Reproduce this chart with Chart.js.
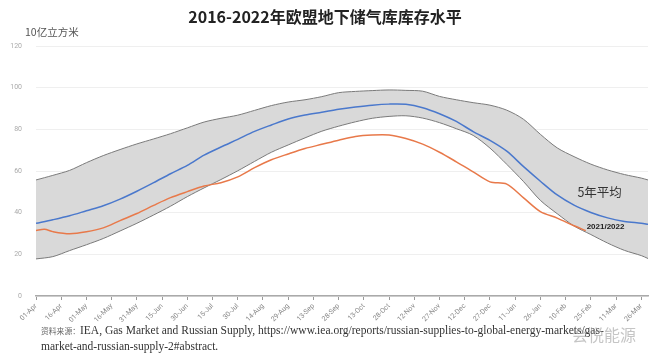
<!DOCTYPE html>
<html>
<head>
<meta charset="utf-8">
<script src="https://cdn.jsdelivr.net/npm/chart.js@4/dist/chart.umd.min.js"></script>
<style>
  html, body { margin: 0; padding: 0; background: #fff; }
  body { width: 660px; height: 357px; position: relative; overflow: hidden; }
  #wrap { position: absolute; left: 0; top: 0; width: 660px; height: 357px; }
  .t { position: absolute; white-space: nowrap; }
  #title { left: 0; width: 650px; top: 4px; text-align: center; font: bold 16px "Noto Sans CJK SC", sans-serif; color: #222; }
  #unit { left: 25px; top: 24px; font: 10.5px "Noto Sans CJK SC", serif; color: #555; }
  #src1 { left: 41px; top: 324px; font: 11.5px "Liberation Serif", serif; color: #333; }
  #src1 .cn { font: 7.8px "Noto Sans CJK SC", sans-serif; color: #666; }
  #src2 { left: 41px; top: 340px; font: 11.5px "Liberation Serif", serif; color: #333; }
  #wm { left: 572px; top: 322px; font: 16px "Noto Sans CJK SC", sans-serif; color: rgba(150,150,150,0.55); }
</style>
</head>
<body>
<div id="wrap"><canvas id="c" width="660" height="357"></canvas></div>
<div class="t" id="title">2016-2022年欧盟地下储气库库存水平</div>
<div class="t" id="unit">10亿立方米</div>
<div class="t" id="src1"><span class="cn">资料来源：</span>IEA, Gas Market and Russian Supply, https://www.iea.org/reports/russian-supplies-to-global-energy-markets/gas-</div>
<div class="t" id="src2">market-and-russian-supply-2#abstract.</div>
<div class="t" id="wm">会悦能源</div>
<script>
// Day offsets from 01-Apr
const days = [0,10,20,30,40,50,60,70,80,90,100,110,120,130,140,150,160,170,180,190,200,210,220,230,240,250,260,270,280,290,300,310,320,330,340,350,360,364];
// Range (2016-2021) maximum and minimum, 10^9 m3
const rangeMax = [55.7,57.9,60.3,64.0,67.4,70.3,73.0,75.4,77.9,80.7,83.5,85.3,86.8,89.1,91.4,93.1,94.2,95.7,97.6,98.2,98.6,98.9,98.7,98.3,95.8,94.2,92.8,91.6,89.2,84.8,77.6,71.1,66.9,63.3,60.5,58.3,56.6,55.7];
const rangeMin = [17.8,18.9,21.8,24.6,27.6,31.2,34.9,38.9,43.1,47.7,51.9,55.9,60.1,64.6,69.0,72.5,75.9,79.1,81.5,83.6,85.3,86.2,86.5,85.4,83.2,80.3,77.1,71.0,63.2,54.9,45.9,39.5,33.6,29.5,25.4,21.9,19.4,18.0];
// 5-year average
const avg5 = [34.9,36.6,38.5,40.9,43.3,46.5,50.3,54.4,58.7,62.7,67.6,71.5,75.2,79.0,82.1,85.0,86.9,88.2,89.6,90.7,91.6,92.1,92.0,90.4,87.5,83.8,78.9,74.7,69.5,62.1,55.1,48.5,43.6,40.1,37.5,35.8,34.9,34.4];
// 2021/2022 season
const daysCur = [0,5,10,20,30,40,50,60,70,80,90,100,110,120,130,140,150,160,170,180,190,200,210,220,230,240,250,260,270,280,290,300,310,320,327];
const season2122 = [31.4,32.0,30.9,29.9,30.8,32.7,36.2,39.6,43.5,47.2,50.1,52.8,54.4,57.2,61.6,65.4,68.2,70.8,72.8,74.8,76.6,77.3,77.3,75.6,72.9,69.0,64.4,59.6,54.8,53.7,47.1,40.5,37.4,33.7,31.4];
// X tick labels, every 15 days
const tickLabels = ["01-Apr","16-Apr","01-May","16-May","31-May","15-Jun","30-Jun","15-Jul","30-Jul","14-Aug","29-Aug","13-Sep","28-Sep","13-Oct","28-Oct","12-Nov","27-Nov","12-Dec","27-Dec","11-Jan","26-Jan","10-Feb","25-Feb","11-Mar","26-Mar"];
const yTicks = [0,20,40,60,80,100,120];
const seriesNames = ["最大","最小","5年平均","2021/2022"];

const pts = (xs, ys) => xs.map((x, i) => ({x: x, y: ys[i]}));

const labelPlugin = {
  id: 'labels',
  afterDatasetsDraw(chart) {
    const {ctx, scales: {x, y}} = chart;
    ctx.save();
    ctx.fillStyle = '#333';
    ctx.textBaseline = 'middle';
    ctx.textAlign = 'left';
    ctx.font = '12.5px "Noto Sans CJK SC", sans-serif';
    ctx.fillText('5年平均', x.getPixelForValue(322), y.getPixelForValue(50));
    ctx.font = 'bold 8px "Liberation Sans", sans-serif';
    ctx.fillStyle = '#222';
    ctx.fillText('2021/2022', x.getPixelForValue(327.5), y.getPixelForValue(33));
    ctx.restore();
  }
};

new Chart(document.getElementById('c'), {
  type: 'line',
  data: {
    datasets: [
      { label: seriesNames[0], data: pts(days, rangeMax), fill: '+1', backgroundColor: '#d9d9d9', borderColor: '#7a7a7a', borderWidth: 1, pointRadius: 0, tension: 0.3, order: 3 },
      { label: seriesNames[1], data: pts(days, rangeMin), fill: false, borderColor: '#7a7a7a', borderWidth: 1, pointRadius: 0, tension: 0.3, order: 2 },
      { label: seriesNames[2], data: pts(days, avg5), fill: false, borderColor: '#4a78cc', borderWidth: 1.5, pointRadius: 0, tension: 0.3, order: 1 },
      { label: seriesNames[3], data: pts(daysCur, season2122), fill: false, borderColor: '#e8794a', borderWidth: 1.5, pointRadius: 0, tension: 0.3, order: 0 }
    ]
  },
  options: {
    responsive: false,
    animation: false,
    events: [],
    layout: { padding: { left: 0, right: 12, top: 46, bottom: 0 } },
    plugins: { legend: { display: false }, tooltip: { enabled: false }, title: { display: false } },
    scales: {
      x: {
        type: 'linear', min: 0, max: 364,
        afterFit: s => { s.height = 61; },
        afterBuildTicks: s => { s.ticks = tickLabels.map((_, i) => ({ value: i * 15 })); },
        ticks: {
          autoSkip: false, includeBounds: false, minRotation: 45, maxRotation: 45,
          font: { size: 7, family: 'Roboto' }, color: '#888', padding: 2,
          callback: v => tickLabels[Math.round(v / 15)]
        },
        grid: { display: true, drawOnChartArea: false, drawTicks: true, tickLength: 4, color: '#999' },
        border: { display: true, color: '#aaa', width: 1.5 }
      },
      y: {
        min: 0, max: 120,
        afterFit: s => { s.width = 36; },
        afterBuildTicks: s => { s.ticks = yTicks.map(v => ({ value: v })); },
        ticks: { font: { size: 7, family: 'Roboto' }, color: '#aaa', padding: 14 },
        grid: { color: '#efefef', drawTicks: false },
        border: { display: false }
      }
    }
  },
  plugins: [labelPlugin]
});
</script>
</body>
</html>
